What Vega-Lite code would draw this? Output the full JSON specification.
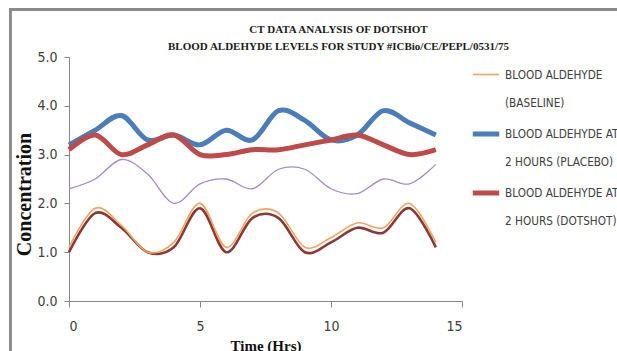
{
  "$schema": "https://vega.github.io/schema/vega-lite/v6.json",
  "width": 393,
  "height": 244,
  "autosize": {"type": "none"},
  "padding": {"left": 69, "top": 57, "right": 155, "bottom": 50},
  "background": "white",
  "title": {
    "text": ["CT DATA ANALYSIS  OF DOTSHOT", "BLOOD ALDEHYDE  LEVELS FOR STUDY #ICBio/CE/PEPL/0531/75"],
    "font": "Liberation Serif",
    "fontWeight": "bold",
    "fontSize": 11,
    "lineHeight": 17,
    "color": "#1a1a1a",
    "anchor": "middle",
    "dx": 73,
    "offset": -44
  },
  "data": {
    "values": [
      {"series": "Series 4", "hour": 0, "value": 2.3}, {"series": "Series 4", "hour": 1, "value": 2.5}, {"series": "Series 4", "hour": 2, "value": 2.9}, {"series": "Series 4", "hour": 3, "value": 2.6}, {"series": "Series 4", "hour": 4, "value": 2.0}, {"series": "Series 4", "hour": 5, "value": 2.4}, {"series": "Series 4", "hour": 6, "value": 2.5}, {"series": "Series 4", "hour": 7, "value": 2.3}, {"series": "Series 4", "hour": 8, "value": 2.7}, {"series": "Series 4", "hour": 9, "value": 2.7}, {"series": "Series 4", "hour": 10, "value": 2.3}, {"series": "Series 4", "hour": 11, "value": 2.2}, {"series": "Series 4", "hour": 12, "value": 2.5}, {"series": "Series 4", "hour": 13, "value": 2.4}, {"series": "Series 4", "hour": 14, "value": 2.8},
      {"series": "Series 5", "hour": 0, "value": 1.0}, {"series": "Series 5", "hour": 1, "value": 1.8}, {"series": "Series 5", "hour": 2, "value": 1.5}, {"series": "Series 5", "hour": 3, "value": 1.0}, {"series": "Series 5", "hour": 4, "value": 1.1}, {"series": "Series 5", "hour": 5, "value": 1.9}, {"series": "Series 5", "hour": 6, "value": 1.0}, {"series": "Series 5", "hour": 7, "value": 1.7}, {"series": "Series 5", "hour": 8, "value": 1.7}, {"series": "Series 5", "hour": 9, "value": 1.0}, {"series": "Series 5", "hour": 10, "value": 1.2}, {"series": "Series 5", "hour": 11, "value": 1.5}, {"series": "Series 5", "hour": 12, "value": 1.4}, {"series": "Series 5", "hour": 13, "value": 1.9}, {"series": "Series 5", "hour": 14, "value": 1.1},
      {"series": "BLOOD ALDEHYDE (BASELINE)", "hour": 0, "value": 1.1}, {"series": "BLOOD ALDEHYDE (BASELINE)", "hour": 1, "value": 1.9}, {"series": "BLOOD ALDEHYDE (BASELINE)", "hour": 2, "value": 1.55}, {"series": "BLOOD ALDEHYDE (BASELINE)", "hour": 3, "value": 1.0}, {"series": "BLOOD ALDEHYDE (BASELINE)", "hour": 4, "value": 1.2}, {"series": "BLOOD ALDEHYDE (BASELINE)", "hour": 5, "value": 2.0}, {"series": "BLOOD ALDEHYDE (BASELINE)", "hour": 6, "value": 1.1}, {"series": "BLOOD ALDEHYDE (BASELINE)", "hour": 7, "value": 1.8}, {"series": "BLOOD ALDEHYDE (BASELINE)", "hour": 8, "value": 1.8}, {"series": "BLOOD ALDEHYDE (BASELINE)", "hour": 9, "value": 1.1}, {"series": "BLOOD ALDEHYDE (BASELINE)", "hour": 10, "value": 1.3}, {"series": "BLOOD ALDEHYDE (BASELINE)", "hour": 11, "value": 1.6}, {"series": "BLOOD ALDEHYDE (BASELINE)", "hour": 12, "value": 1.5}, {"series": "BLOOD ALDEHYDE (BASELINE)", "hour": 13, "value": 2.0}, {"series": "BLOOD ALDEHYDE (BASELINE)", "hour": 14, "value": 1.2},
      {"series": "BLOOD ALDEHYDE AT 2 HOURS (PLACEBO)", "hour": 0, "value": 3.2}, {"series": "BLOOD ALDEHYDE AT 2 HOURS (PLACEBO)", "hour": 1, "value": 3.5}, {"series": "BLOOD ALDEHYDE AT 2 HOURS (PLACEBO)", "hour": 2, "value": 3.8}, {"series": "BLOOD ALDEHYDE AT 2 HOURS (PLACEBO)", "hour": 3, "value": 3.3}, {"series": "BLOOD ALDEHYDE AT 2 HOURS (PLACEBO)", "hour": 4, "value": 3.4}, {"series": "BLOOD ALDEHYDE AT 2 HOURS (PLACEBO)", "hour": 5, "value": 3.2}, {"series": "BLOOD ALDEHYDE AT 2 HOURS (PLACEBO)", "hour": 6, "value": 3.5}, {"series": "BLOOD ALDEHYDE AT 2 HOURS (PLACEBO)", "hour": 7, "value": 3.3}, {"series": "BLOOD ALDEHYDE AT 2 HOURS (PLACEBO)", "hour": 8, "value": 3.9}, {"series": "BLOOD ALDEHYDE AT 2 HOURS (PLACEBO)", "hour": 9, "value": 3.7}, {"series": "BLOOD ALDEHYDE AT 2 HOURS (PLACEBO)", "hour": 10, "value": 3.3}, {"series": "BLOOD ALDEHYDE AT 2 HOURS (PLACEBO)", "hour": 11, "value": 3.4}, {"series": "BLOOD ALDEHYDE AT 2 HOURS (PLACEBO)", "hour": 12, "value": 3.9}, {"series": "BLOOD ALDEHYDE AT 2 HOURS (PLACEBO)", "hour": 13, "value": 3.65}, {"series": "BLOOD ALDEHYDE AT 2 HOURS (PLACEBO)", "hour": 14, "value": 3.4},
      {"series": "BLOOD ALDEHYDE AT 2 HOURS (DOTSHOT)", "hour": 0, "value": 3.1}, {"series": "BLOOD ALDEHYDE AT 2 HOURS (DOTSHOT)", "hour": 1, "value": 3.4}, {"series": "BLOOD ALDEHYDE AT 2 HOURS (DOTSHOT)", "hour": 2, "value": 3.0}, {"series": "BLOOD ALDEHYDE AT 2 HOURS (DOTSHOT)", "hour": 3, "value": 3.2}, {"series": "BLOOD ALDEHYDE AT 2 HOURS (DOTSHOT)", "hour": 4, "value": 3.4}, {"series": "BLOOD ALDEHYDE AT 2 HOURS (DOTSHOT)", "hour": 5, "value": 3.0}, {"series": "BLOOD ALDEHYDE AT 2 HOURS (DOTSHOT)", "hour": 6, "value": 3.0}, {"series": "BLOOD ALDEHYDE AT 2 HOURS (DOTSHOT)", "hour": 7, "value": 3.1}, {"series": "BLOOD ALDEHYDE AT 2 HOURS (DOTSHOT)", "hour": 8, "value": 3.1}, {"series": "BLOOD ALDEHYDE AT 2 HOURS (DOTSHOT)", "hour": 9, "value": 3.2}, {"series": "BLOOD ALDEHYDE AT 2 HOURS (DOTSHOT)", "hour": 10, "value": 3.3}, {"series": "BLOOD ALDEHYDE AT 2 HOURS (DOTSHOT)", "hour": 11, "value": 3.4}, {"series": "BLOOD ALDEHYDE AT 2 HOURS (DOTSHOT)", "hour": 12, "value": 3.2}, {"series": "BLOOD ALDEHYDE AT 2 HOURS (DOTSHOT)", "hour": 13, "value": 3.0}, {"series": "BLOOD ALDEHYDE AT 2 HOURS (DOTSHOT)", "hour": 14, "value": 3.1}
    ]
  },
  "layer": [
    {
      "mark": {"type": "rect", "fill": null, "stroke": "#8a8a8a", "strokeWidth": 2, "clip": false},
      "encoding": {
        "x": {"datum": -2.25, "type": "quantitative", "scale": {"domain": [0, 15]}},
        "x2": {"datum": 40},
        "y": {"datum": 5.98, "type": "quantitative", "scale": {"domain": [0, 5]}},
        "y2": {"datum": -3}
      }
    },
    {
      "mark": {"type": "line", "interpolate": "cardinal"},
      "encoding": {
        "x": {
          "field": "hour",
          "type": "quantitative",
          "scale": {"domain": [0, 15], "nice": false},
          "axis": {
            "title": "Time (Hrs)",
            "values": [0, 5, 10, 15],
            "grid": false,
            "tickSize": 6,
            "labelPadding": 12,
            "titlePadding": 5
          }
        },
        "y": {
          "field": "value",
          "type": "quantitative",
          "scale": {"domain": [0, 5], "nice": false},
          "axis": {
            "title": "Concentration",
            "values": [0, 1, 2, 3, 4, 5],
            "format": ".1f",
            "grid": false,
            "tickSize": 5,
            "labelPadding": 7,
            "titleX": -35,
            "titleY": 137,
            "titleAlign": "center",
            "titleFontSize": 20
          }
        },
        "color": {
          "field": "series",
          "type": "nominal",
          "scale": {
            "domain": ["BLOOD ALDEHYDE (BASELINE)", "BLOOD ALDEHYDE AT 2 HOURS (PLACEBO)", "BLOOD ALDEHYDE AT 2 HOURS (DOTSHOT)", "Series 4", "Series 5"],
            "range": ["#F9A25C", "#4A7EBB", "#BE4B48", "#A38DC6", "#8C3836"]
          },
          "legend": {
            "title": null,
            "values": ["BLOOD ALDEHYDE (BASELINE)", "BLOOD ALDEHYDE AT 2 HOURS (PLACEBO)", "BLOOD ALDEHYDE AT 2 HOURS (DOTSHOT)"],
            "labelExpr": "indexof(datum.label, ' AT ') > 0 ? ['BLOOD ALDEHYDE AT', substring(datum.label, 18)] : ['BLOOD ALDEHYDE', substring(datum.label, 15)]",
            "encode": {"labels": {"update": {"lineHeight": {"value": 28}}}}
          }
        },
        "strokeWidth": {
          "field": "series",
          "type": "nominal",
          "scale": {
            "type": "ordinal",
            "domain": ["BLOOD ALDEHYDE (BASELINE)", "BLOOD ALDEHYDE AT 2 HOURS (PLACEBO)", "BLOOD ALDEHYDE AT 2 HOURS (DOTSHOT)", "Series 4", "Series 5"],
            "range": [1.6, 5, 5, 1.3, 2.6]
          },
          "legend": {
            "title": null,
            "values": ["BLOOD ALDEHYDE (BASELINE)", "BLOOD ALDEHYDE AT 2 HOURS (PLACEBO)", "BLOOD ALDEHYDE AT 2 HOURS (DOTSHOT)"],
            "labelExpr": "indexof(datum.label, ' AT ') > 0 ? ['BLOOD ALDEHYDE AT', substring(datum.label, 18)] : ['BLOOD ALDEHYDE', substring(datum.label, 15)]",
            "encode": {"labels": {"update": {"lineHeight": {"value": 28}}}}
          }
        }
      }
    }
  ],
  "config": {
    "view": {"stroke": null},
    "axis": {
      "domainColor": "#868686",
      "tickColor": "#868686",
      "labelFont": "Liberation Sans Narrow, DejaVu Sans Condensed, Roboto Condensed, Roboto",
      "labelFontSize": 14,
      "labelColor": "#404040",
      "titleFont": "Liberation Serif",
      "titleFontWeight": "bold",
      "titleFontSize": 15,
      "titleColor": "#111111"
    },
    "legend": {
      "orient": "right",
      "offset": 5,
      "padding": 3,
      "symbolType": "stroke",
      "symbolSize": 700,
      "labelFont": "Liberation Sans Narrow, DejaVu Sans Condensed, Roboto Condensed, Roboto",
      "labelFontSize": 11.7,
      "labelOffset": 3,
      "labelColor": "#404040",
      "labelLimit": 300,
      "rowPadding": 8
    }
  }
}
